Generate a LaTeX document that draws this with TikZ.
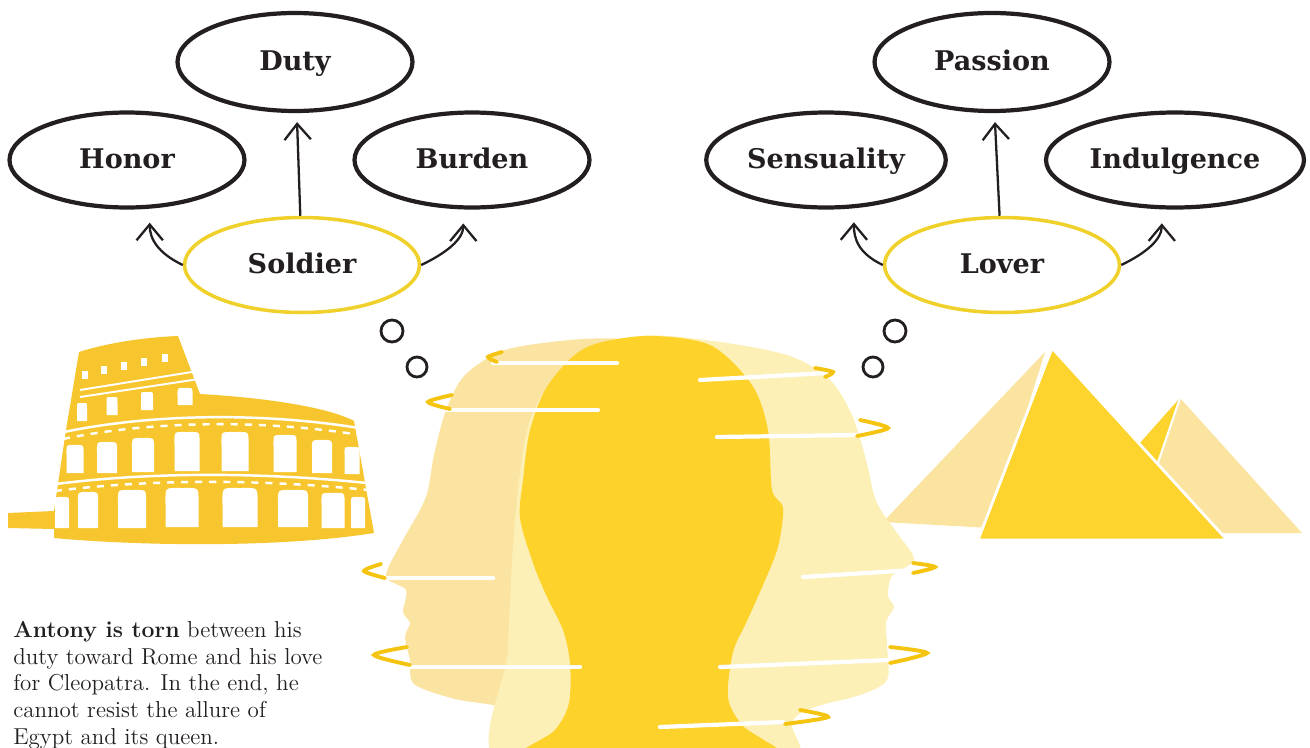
\documentclass[tikz,border=0pt]{standalone}
\usepackage{fontspec}
\usepackage{tikz}
\usetikzlibrary{arrows.meta,shapes.geometric}
\newfontfamily\tagfont{DejaVu Serif}

\definecolor{ink}{HTML}{231F20}
\definecolor{rolegold}{HTML}{F0D02A}
\definecolor{stone}{HTML}{F7C62E}
\definecolor{headmid}{HTML}{FDD22A}
\definecolor{headlft}{HTML}{FBE4A2}
\definecolor{headrgt}{HTML}{FDF0B6}
\definecolor{ringgold}{HTML}{F5C410}
\definecolor{sandlt}{HTML}{FBE3A0}
\definecolor{sanddk}{HTML}{FDD32D}

\begin{document}
\begin{tikzpicture}[
    x=0.02cm, y=-0.02cm,
    idea/.style={ellipse, draw=ink, line width=2.4pt, minimum width=4.7cm,
                 minimum height=1.9cm, text=ink, text height=10pt, text depth=0pt,
                 font=\tagfont\bfseries\fontsize{15.4pt}{18pt}\selectfont},
    role/.style={idea, draw=rolegold, line width=2pt},
    arr/.style={-{Straight Barb[length=9pt,width=15pt]}, line width=1.3pt, draw=ink},
    streak/.style={white, line width=2.4pt, line cap=round},
    swirl/.style={draw=ringgold, line width=2.2pt, line cap=round},
    bubble/.style={draw=ink, line width=1.6pt}
  ]
  \useasboundingbox (0,0) rectangle (1310,747);
  \clip (0,0) rectangle (1310,747);
  \fill[white] (0,0) rectangle (1310,747);

  % colosseum
  \fill[stone] (8,513) -- (54,511) -- (66,430) -- (79,352)
    .. controls (110,342) and (150,337) .. (178,336) -- (200,394)
    .. controls (270,398) and (330,408) .. (354,421) -- (374,533)
    .. controls (280,548) and (140,546) .. (54,538) -- (54,529) -- (8,528) -- cycle;
  \draw[white, line width=1.1pt] (80,390) -- (198,371);
  \draw[white, line width=1.1pt] (80,397) -- (199,379);
  \draw[white, line width=1.4pt] (64,432) .. controls (150,414) and (260,412) .. (359,428);
  \draw[white, line width=1.4pt, dash pattern=on 4pt off 4pt] (63,439) .. controls (150,421) and (260,419) .. (360,435);
  \draw[white, line width=1.4pt] (56,484) .. controls (150,472) and (260,472) .. (367,483);
  \draw[white, line width=1.4pt, dash pattern=on 4pt off 4pt] (55,491) .. controls (150,479) and (260,479) .. (368,490);
  \foreach \x/\y in {85/375,104/370,124/366,144/362,165/358}
    \fill[white] ({\x-3},{\y-4}) rectangle ({\x+3},{\y+4});
  \foreach \x/\t/\w/\b in {82/403/10/421, 112/397/11/415, 147/392/12/410, 185/388/15/405,
                           75/445/17/473, 107/442/20/473, 143/438/22/472, 187/432/25/471,
                           235/432/27/471, 285/435/23/472, 322/440/20/473, 352/447/15/474,
                           62/497/14/528, 88/492/20/528, 132/490/28/528, 182/488/33/527,
                           240/488/35/527, 293/490/30/527, 333/493/23/528, 358/497/14/528}
    \fill[white] ({\x-\w/2},\b) -- ({\x-\w/2},{\t+\w/2})
      .. controls +(0,{-0.55*\w}) and +({-0.55*\w},0) .. (\x,\t)
      .. controls +({0.55*\w},0) and +(0,{-0.55*\w}) .. ({\x+\w/2},{\t+\w/2})
      -- ({\x+\w/2},\b) -- cycle;

  % pyramids
  \fill[sandlt] (1060,533) -- (1180,398) -- (1302,533) -- cycle;
  \fill[sanddk] (1060,533) -- (1180,398) -- (1134,533) -- cycle;
  \draw[white, line width=1.2pt] (1180,398) -- (1134,533);
  \fill[sandlt] (883,522) -- (1045,352) -- (990,528) -- cycle;
  \filldraw[fill=sanddk, draw=white, line width=1.6pt] (978,540) -- (1052,348) -- (1227,540) -- cycle;

  % heads
  \fill[headlft] plot[smooth cycle, tension=0.5] coordinates {
    (620,339) (570,340) (505,350) (465,375) (446,410) (434,455) (428,490)
    (420,510) (403,540) (386,576) (406,590) (403,612) (410,623) (405,637)
    (410,660) (414,684) (455,699) (500,707) (514,724) (520,770) (640,770)
    (640,600) (655,420) (655,350)};
  \fill[headrgt] plot[smooth cycle, tension=0.5] coordinates {
    (640,336) (720,342) (790,356) (830,380) (852,415) (866,460) (874,495)
    (882,512) (900,537) (914,560) (892,576) (888,596) (894,607) (886,622)
    (887,645) (887,680) (860,695) (815,707) (792,722) (782,770) (505,770)
    (508,650) (515,520) (530,420) (570,360)};
  \fill[headmid] plot[smooth cycle, tension=0.5] coordinates {
    (645,336) (710,345) (752,385) (768,430) (772,490) (783,508) (778,547)
    (763,585) (746,623) (733,652) (728,697) (742,725) (785,770) (515,770)
    (555,730) (569,703) (570,663) (563,630) (547,597) (533,563) (520,518)
    (523,480) (530,430) (548,385) (585,348)};
  \foreach \a/\b/\c in {493/617/363, 447/598/410, 387/493/578, 410/580/667}
    \draw[streak] (\a,\c) -- (\b,\c);
  \draw[streak] (700,380) -- (827,373);
  \draw[streak] (717,437) -- (857,435);
  \draw[streak] (803,577) -- (913,570);
  \draw[streak] (720,667) -- (890,660);
  \draw[streak] (660,727) -- (783,722);
  \draw[swirl] plot[smooth] coordinates {(502,352) (488,357) (497,362)};
  \draw[swirl] plot[smooth] coordinates {(452,395) (428,402) (450,409)};
  \draw[swirl] plot[smooth] coordinates {(381,564) (364,571) (385,578)};
  \draw[swirl] plot[smooth] coordinates {(407,647) (374,655) (410,665)};
  \draw[swirl] plot[smooth] coordinates {(815,368) (833,372) (825,377)};
  \draw[swirl] plot[smooth] coordinates {(860,420) (888,428) (857,436)};
  \draw[swirl] plot[smooth] coordinates {(913,563) (935,567) (913,573)};
  \draw[swirl] plot[smooth] coordinates {(890,647) (927,653) (890,663)};
  \draw[swirl] plot[smooth] coordinates {(800,710) (828,717) (785,724)};

  % thought bubbles
  \draw[bubble] (392,331) circle (11);
  \draw[bubble] (417,367) circle (10);
  \draw[bubble] (895,331) circle (11);
  \draw[bubble] (873,367) circle (10);

  \node[idea, minimum height=1.96cm] (duty) at (295,62) {Duty};
  \node[idea] (honor)  at (127,160) {Honor};
  \node[idea] (burden) at (472,160) {Burden};
  \node[role] (soldier) at (302,265) {Soldier};
  \node[idea, minimum height=1.96cm] (passion) at (992,62) {Passion};
  \node[idea, minimum width=4.76cm] (sensual) at (826,160) {Sensuality};
  \node[idea, minimum width=4.8cm] (indulg) at (1175,160) {Indulgence};
  \node[role] (lover) at (1002,265) {Lover};

  \foreach \a/\b in {soldier/duty, lover/passion}
    \draw[arr, shorten >=0.18cm] (\a) -- (\b);
  \foreach \src/\dst/\dx in {soldier.west/honor.-65/-25, soldier.east/burden.-100/25,
                             lover.west/sensual.-60/-25, lover.east/indulg.-105/25}
    \draw[arr, shorten >=0.28cm] (\src) .. controls +(\dx,-12) and +(0,30) .. (\dst);

  \node[anchor=north west, inner sep=0pt, align=left, text=ink,
        font=\fontsize{13.1pt}{15.2pt}\selectfont] (blurb) at (13,621)
    {\textbf{Antony is torn} between his\\ duty toward Rome and his love\\
     for Cleopatra. In the end, he\\ cannot resist the allure of\\ Egypt and its queen.};
\end{tikzpicture}
\end{document}
